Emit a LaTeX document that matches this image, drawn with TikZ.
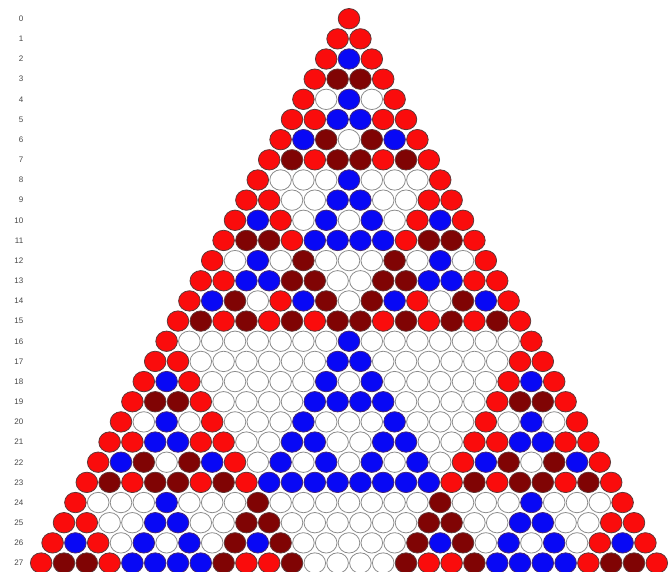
\documentclass[tikz,border=0pt]{standalone}
\usepackage{fontspec}
\setmainfont{Liberation Sans}
\usetikzlibrary{shapes.geometric}
\definecolor{cred}{RGB}{250,12,12}
\definecolor{cdark}{RGB}{128,4,4}
\definecolor{cblue}{RGB}{8,8,245}
\definecolor{cline}{RGB}{95,55,55}
\definecolor{cgray}{RGB}{140,140,140}
\definecolor{ctext}{RGB}{70,70,70}
\tikzset{
  ball/.style={ellipse, minimum width=21.6pt, minimum height=20.4pt, inner sep=0pt, line width=0.8pt},
  c0/.style={ball, draw=cgray, fill=white},
  c1/.style={ball, draw=cline, fill=cred},
  c2/.style={ball, draw=cline!70!blue, fill=cblue},
  c3/.style={ball, draw=cline, fill=cdark},
  rowlabel/.style={anchor=east, inner sep=0pt, text=ctext, font=\fontsize{8}{9}\selectfont}
}
\begin{document}
\begin{tikzpicture}[x=1pt,y=1pt]
\useasboundingbox (0,0) rectangle (672,-572);
\foreach \n in {0,...,27} {
  \pgfmathsetmacro\yy{-(18.7+\n*20.16)}
  \node[rowlabel] (lab\n) at (23.5,\yy) {\n};
  \foreach \k in {0,...,\n} {
    \ifnum\k=0
      \gdef\v{1}%
    \else
      \ifnum\k=\n
        \gdef\v{1}%
      \else
        \pgfmathtruncatemacro\m{\n-1}%
        \pgfmathtruncatemacro\km{\k-1}%
        \pgfmathtruncatemacro\tmp{mod(\csname pc\m-\km\endcsname+\csname pc\m-\k\endcsname,4)}%
        \xdef\v{\tmp}%
      \fi
    \fi
    \expandafter\xdef\csname pc\n-\k\endcsname{\v}%
    \pgfmathsetmacro\xx{349+(\k-\n/2)*22.8}
    \node[c\v] (b\n-\k) at (\xx,\yy) {};
  }
}
\end{tikzpicture}
\end{document}
